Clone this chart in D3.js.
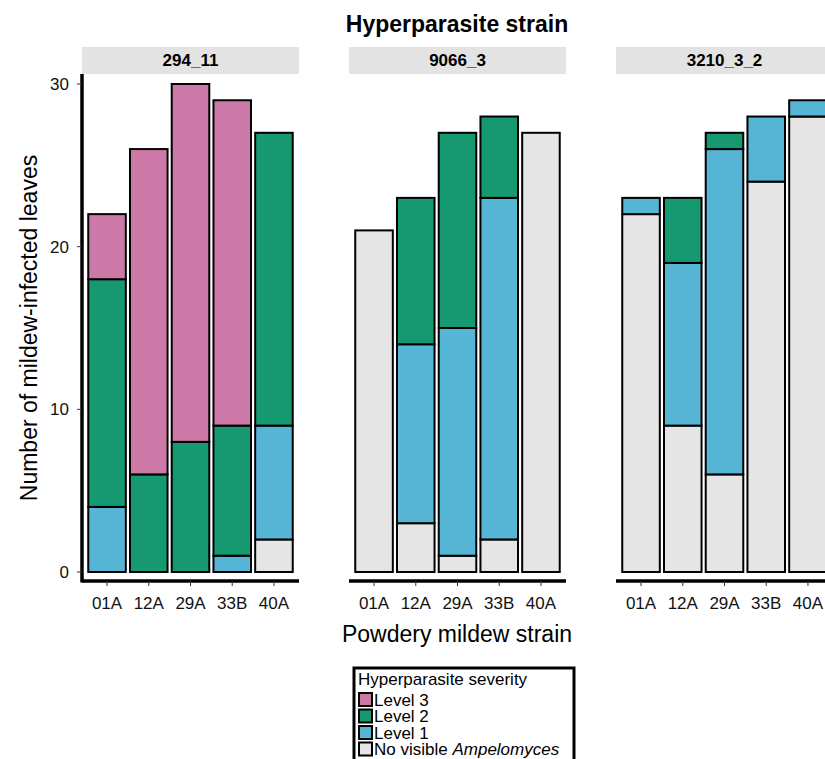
<!DOCTYPE html>
<html>
<head>
<meta charset="utf-8">
<script src="https://cdn.jsdelivr.net/npm/d3@7"></script>
<style>
  body { margin: 0; background: #fff; }
  text { font-family: "Liberation Sans", Arial, sans-serif; }
</style>
</head>
<body>
<div id="chart-area"></div>
<script>
// facets, categories, severity levels (bottom to top of each stack)
const strains = ['294_11', '9066_3', '3210_3_2'];
const mildew = ['01A', '12A', '29A', '33B', '40A'];
const levels = ['None', 'Level 1', 'Level 2', 'Level 3'];
const levelColors = ['#e5e5e5', '#56b4d4', '#169870', '#cc79a7'];
const yTicks = [0, 10, 20, 30];

// counts per level, one row per mildew strain, in order None, L1, L2, L3
const counts294 = [
    [0, 4, 14, 4],
    [0, 0, 6, 20],
    [0, 0, 8, 22],
    [0, 1, 8, 20],
    [2, 7, 18, 0]
];
const counts9066 = [
    [21, 0, 0, 0],
    [3, 11, 9, 0],
    [1, 14, 12, 0],
    [2, 21, 5, 0],
    [27, 0, 0, 0]
];
const counts3210 = [
    [22, 1, 0, 0],
    [9, 10, 4, 0],
    [6, 20, 1, 0],
    [24, 4, 0, 0],
    [28, 1, 0, 0]
];
const allCounts = [counts294, counts9066, counts3210];

const W = 825, H = 759;
const panelW = 217, gap = 50;
const panelLeft = 82, panelTop = 74, panelBottom = 581;

const svg = d3.select('#chart-area')
    .append('svg')
    .attr('width', W)
    .attr('height', H);

// y scale, same for all facets
const y = d3.scaleLinear()
    .domain([0, 30])
    .range([572, 84]);

svg.append('text')
    .attr('x', 457).attr('y', 32)
    .attr('text-anchor', 'middle')
    .attr('font-size', 23).attr('font-weight', 'bold')
    .text('Hyperparasite strain');

strains.forEach((s, i) => {
    const x0 = panelLeft + i * (panelW + gap);
    const g = svg.append('g')
        .attr('transform', 'translate(' + x0 + ',0)');

    // strip
    g.append('rect')
        .attr('x', 0).attr('y', 47)
        .attr('width', panelW).attr('height', 27)
        .attr('fill', '#e3e3e3');
    g.append('text')
        .attr('x', panelW / 2).attr('y', 66)
        .attr('text-anchor', 'middle')
        .attr('font-size', 17).attr('font-weight', 'bold')
        .text(s);

    const x = d3.scaleBand()
        .domain(mildew)
        .range([0, panelW])
        .paddingInner(0.1)
        .paddingOuter(0.15);

    // stack data
    const rows = allCounts[i].map((c, j) => {
        const o = { strain: mildew[j] };
        levels.forEach((l, k) => { o[l] = c[k]; });
        return o;
    });
    const series = d3.stack().keys(levels)(rows);

    series.forEach((ser, k) => {
        g.selectAll('rect.l' + k)
            .data(ser.filter(d => d[1] > d[0]))
            .enter()
            .append('rect')
            .attr('x', d => x(d.data.strain))
            .attr('y', d => y(d[1]))
            .attr('width', x.bandwidth())
            .attr('height', d => y(d[0]) - y(d[1]))
            .attr('fill', levelColors[k])
            .attr('stroke', '#000')
            .attr('stroke-width', 2);
    });

    // x axis
    g.append('line')
        .attr('x1', 0).attr('x2', panelW)
        .attr('y1', panelBottom).attr('y2', panelBottom)
        .attr('stroke', '#000').attr('stroke-width', 3.5);
    mildew.forEach((m) => {
        const cx = x(m) + x.bandwidth() / 2;
        g.append('line')
            .attr('x1', cx).attr('x2', cx)
            .attr('y1', panelBottom).attr('y2', panelBottom + 5)
            .attr('stroke', '#333').attr('stroke-width', 1);
        g.append('text')
            .attr('x', cx).attr('y', 609)
            .attr('text-anchor', 'middle')
            .attr('font-size', 17).attr('fill', '#111')
            .text(m);
    });

    // y axis only on first facet
    if (i === 0) {
        g.append('line')
            .attr('x1', 0).attr('x2', 0)
            .attr('y1', panelTop).attr('y2', panelBottom + 1.5)
            .attr('stroke', '#000').attr('stroke-width', 3.5);
        yTicks.forEach((t) => {
            g.append('line')
                .attr('x1', -5).attr('x2', 0)
                .attr('y1', y(t)).attr('y2', y(t))
                .attr('stroke', '#333').attr('stroke-width', 1);
            g.append('text')
                .attr('x', -13).attr('y', y(t) + 6)
                .attr('text-anchor', 'end')
                .attr('font-size', 17).attr('fill', '#111')
                .text(t);
        });
    }
});

// axis titles
svg.append('text')
    .attr('transform', 'translate(37,328) rotate(-90)')
    .attr('text-anchor', 'middle')
    .attr('font-size', 23)
    .text('Number of mildew-infected leaves');
svg.append('text')
    .attr('x', 457).attr('y', 642)
    .attr('text-anchor', 'middle')
    .attr('font-size', 23)
    .text('Powdery mildew strain');

// legend
const lg = svg.append('g').attr('transform', 'translate(354,668)');
lg.append('rect')
    .attr('x', 0).attr('y', 0)
    .attr('width', 220).attr('height', 100)
    .attr('fill', '#fff')
    .attr('stroke', '#000').attr('stroke-width', 3);
lg.append('text')
    .attr('x', 4).attr('y', 17)
    .attr('font-size', 17)
    .text('Hyperparasite severity');
const legendOrder = [3, 2, 1, 0];
legendOrder.forEach((k, r) => {
    const yy = 24 + r * 16.5;
    lg.append('rect')
        .attr('x', 5).attr('y', yy + 1)
        .attr('width', 13).attr('height', 13)
        .attr('fill', levelColors[k])
        .attr('stroke', '#000').attr('stroke-width', 2);
    const t = lg.append('text')
        .attr('x', 20).attr('y', yy + 13.5)
        .attr('font-size', 17);
    if (k === 0) {
        t.append('tspan').text('No visible ');
        t.append('tspan').attr('font-style', 'italic').text('Ampelomyces');
    } else {
        t.text(levels[k]);
    }
});
</script>
</body>
</html>
